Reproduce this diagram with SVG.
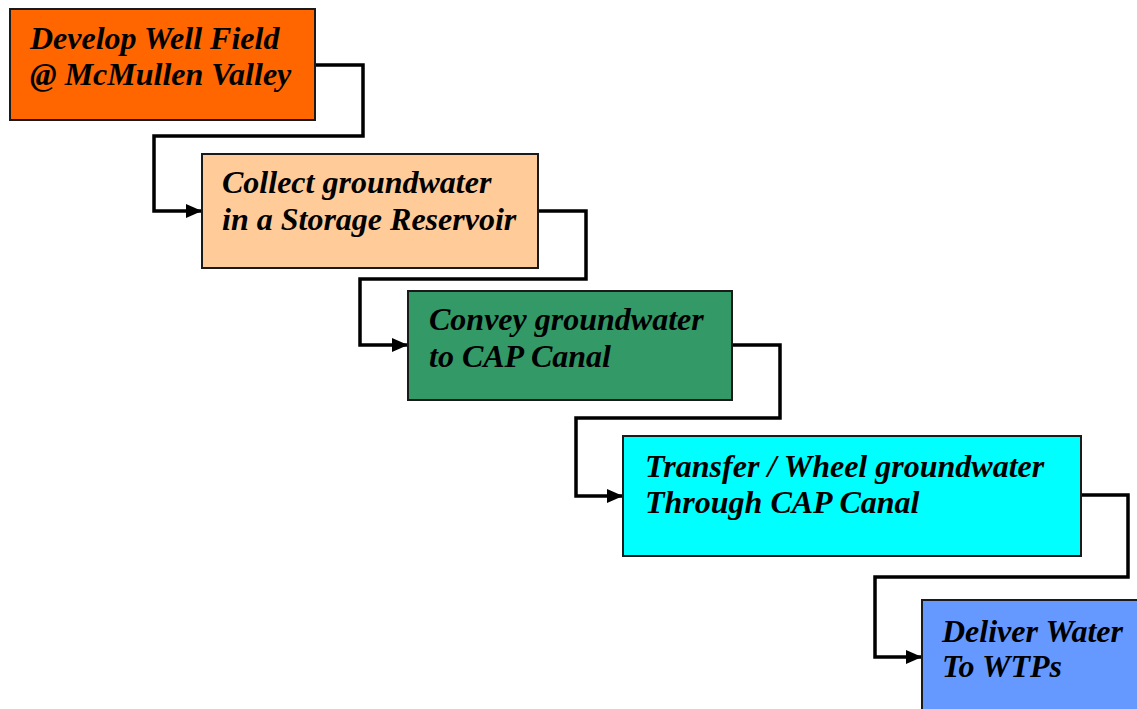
<svg xmlns="http://www.w3.org/2000/svg" width="1137" height="709" viewBox="0 0 1137 709">
<style>
.box{stroke:#1a1a1a;stroke-width:2}
.t{font-family:"Liberation Serif","Times New Roman",serif;font-weight:bold;font-style:italic;font-size:32px;fill:#000}
.c{fill:none;stroke:#000;stroke-width:3.5;stroke-linejoin:miter}
</style>
<defs>
<marker id="ah" markerWidth="16" markerHeight="15" refX="15" refY="7.5" orient="auto" markerUnits="userSpaceOnUse">
<path d="M0,0.5 L16,7.5 L0,14.5 Z" fill="#000"/>
</marker>
</defs>
<rect width="1137" height="709" fill="#fff"/>
<g id="connectors">
<path class="c" d="M315,65 H363 V136 H154 V211 H201" marker-end="url(#ah)"/>
<path class="c" d="M538,211 H586 V279 H360 V345 H407" marker-end="url(#ah)"/>
<path class="c" d="M732,345 H780 V418 H576 V496 H622" marker-end="url(#ah)"/>
<path class="c" d="M1081,495 H1128 V577 H875 V657 H921" marker-end="url(#ah)"/>
</g>
<g id="n1">
<rect class="box" x="10" y="9" width="305" height="111" fill="#FF6600"/>
<text class="t" x="30" y="49">Develop Well Field</text>
<text class="t" x="30" y="85">@ McMullen Valley</text>
</g>
<g id="n2">
<rect class="box" x="202" y="154" width="336" height="114" fill="#FFCC99"/>
<text class="t" x="222" y="193">Collect groundwater</text>
<text class="t" x="222" y="230">in a Storage Reservoir</text>
</g>
<g id="n3">
<rect class="box" x="408" y="291" width="324" height="109" fill="#339966"/>
<text class="t" x="429" y="330">Convey groundwater</text>
<text class="t" x="429" y="367">to CAP Canal</text>
</g>
<g id="n4">
<rect class="box" x="623" y="436" width="458" height="120" fill="#00FFFF"/>
<text class="t" x="645" y="477">Transfer / Wheel groundwater</text>
<text class="t" x="645" y="513">Through CAP Canal</text>
</g>
<g id="n5">
<rect class="box" x="922" y="600" width="230" height="120" fill="#6699FF"/>
<text class="t" x="942" y="642">Deliver Water</text>
<text class="t" x="942" y="677">To WTPs</text>
</g>
</svg>
